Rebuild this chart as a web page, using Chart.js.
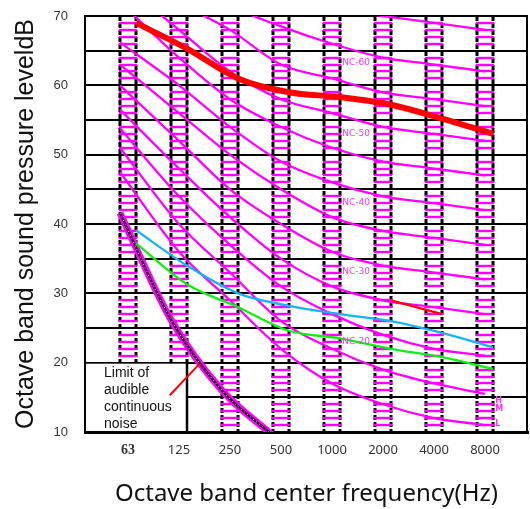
<!DOCTYPE html>
<html><head><meta charset="utf-8">
<script src="https://cdn.jsdelivr.net/npm/chart.js@4"></script>
<style>html,body{margin:0;padding:0;background:#fff}#wrap{width:530px;height:509px;position:relative}</style>
</head><body><div id="wrap"><canvas id="c"></canvas></div>
<script>
// ---------- data ----------
const bands = ['63','125','250','500','1000','2000','4000','8000'];
const yGridLevels = [10,15,20,25,30,35,40,45,50,55,60,65,70];
const yTickLabels = [10,20,30,40,50,60,70];

const nc15 = [47.5,36,29,22,17,14,12,11];
const nc20 = [51,40,33,26,22,19,17,15.5];
const nc25 = [53.8,44,37,31,27,24,22,21];
const nc30 = [56.5,48,41,35,31,29,28,27];
const nc35 = [60,52,45,40,36,34,33,32];
const nc40 = [63,56,50,45,41,39,38,37];
const nc45 = [66.2,60,54,49,46,44,43,42];
const nc50 = [72,64,58,54,51,49,48,47];
const nc55 = [75,68,62,58,56,54,53,52];
const nc60 = [78,72,68,63,61,59,58,57];
const nc65 = [81,76,71.5,68.5,66,64,63,62];
const nc70 = [84,80,76,72,71,70,69,68];

const measuredA = [69,65.3,61,59,58.3,57.2,55.2,53];      // thick red
const measuredB = [39.1,34,30,28.2,27,26,24.3,22.2];      // blue
const measuredC = [37.2,31.3,28,24.6,23.5,22,20.8,19.1];  // green
const measuredD = [29,27];                                 // short red, 2000-4000 Hz
const audibleLimit = [41.6,26.2,16,9.5];                   // 63-500 Hz

const ncLabelNames = ['NC-60','NC-50','NC-40','NC-30','NC-20'];
const ncLabelLevels = [63.2,53.1,43.1,33.1,23.0];
const curveTags = ['H','M','L'];
const curveTagLevels = [14.5,13.3,11.2];
const limitText = ['Limit of','audible','continuous','noise'];
const pointerBands = [0.82,1.41];
const pointerLevels = [15.3,19.9];

// ---------- layout / style ----------
const X_MIN = -0.843, X_MAX = 7.843;
const colHalf = 0.157, stripeHalf = 0.178;
const lineOffset = 0.157;          // measured lines drawn at right edge of band columns
const boxTop = 20;                 // label box upper level
const ncLabelX = 4.2, tagX = 7.2;
const limitTextX = -0.47, limitTextY = 18.5, limitLineGap = 17;
const MAG = '#ff00ff';

const ncSets = [nc15,nc20,nc25,nc30,nc35,nc40,nc45,nc50,nc55,nc60,nc65,nc70];
const ncData = v => v.map((val,i)=>({x: i===0 ? -colHalf : i, y: val}));
const edgeData = (v, start, off) => v.map((val,i)=>({x: start+i+off, y: val}));

const datasets = [];
ncSets.forEach(v=>datasets.push({data: ncData(v), borderColor: MAG, borderWidth: 2.3, order: 10}));
datasets.push({data: edgeData(audibleLimit,0,-colHalf), borderColor: MAG, borderWidth: 7, order: 6});
datasets.push({data: edgeData(audibleLimit,0,-colHalf), borderColor: '#111', borderWidth: 2.2, order: 5});
datasets.push({data: edgeData(audibleLimit,0,-colHalf), borderColor: '#fff', borderWidth: 1, borderDash:[1,3], order: 4});
datasets.push({data: edgeData(measuredB,0,lineOffset), borderColor: '#1ab2f0', borderWidth: 2.3, order: 3});
datasets.push({data: edgeData(measuredC,0,lineOffset), borderColor: '#11ee11', borderWidth: 2.3, order: 3});
datasets.push({data: edgeData(measuredA,0,lineOffset), borderColor: '#ff0000', borderWidth: 6, order: 2});
datasets.push({data: edgeData(measuredD,5,lineOffset), borderColor: '#ff0000', borderWidth: 2.3, order: 2});
datasets.push({data: pointerBands.map((b,i)=>({x:b,y:pointerLevels[i]})), borderColor: '#ff0000', borderWidth: 2, order: 1, cubicInterpolationMode:'default', tension:0});
datasets.forEach(d=>{ d.pointRadius = 0; d.fill = false; if(!d.cubicInterpolationMode) d.cubicInterpolationMode='monotone'; });

const decor = {
  id: 'decor',
  beforeDatasetsDraw(chart){
    const {ctx, chartArea:a, scales:{x,y}} = chart;
    ctx.save();
    const bx1 = a.left, bx2 = x.getPixelForValue(1+colHalf);
    const by1 = y.getPixelForValue(boxTop), by2 = y.getPixelForValue(y.min);
    ctx.fillStyle = '#fff';
    ctx.fillRect(bx1+1, by1+1, bx2-bx1-1, by2-by1-2);
    // column lines
    ctx.strokeStyle = '#000'; ctx.lineWidth = 3; ctx.setLineDash([5,2]);
    bands.forEach((b,i)=>{
      const lo = i<2 ? boxTop : y.min;
      [i-colHalf, i+colHalf].forEach(v=>{
        const px = x.getPixelForValue(v);
        ctx.beginPath(); ctx.moveTo(px, a.top); ctx.lineTo(px, y.getPixelForValue(lo)); ctx.stroke();
      });
    });
    ctx.setLineDash([]);
    // stripes
    ctx.strokeStyle = MAG; ctx.lineWidth = 2.4;
    bands.forEach((b,i)=>{
      const lo = i<2 ? boxTop : y.min;
      for (let v = lo+1; v < y.max; v++){
        if (v % 5 === 0) continue;
        const py = Math.round(y.getPixelForValue(v));
        ctx.beginPath(); ctx.moveTo(x.getPixelForValue(i-stripeHalf), py); ctx.lineTo(x.getPixelForValue(i+stripeHalf), py); ctx.stroke();
      }
    });
    // box right border and frame right edge
    ctx.strokeStyle = '#000'; ctx.lineWidth = 2.5;
    ctx.beginPath(); ctx.moveTo(bx2, by1); ctx.lineTo(bx2, by2); ctx.stroke();
    ctx.lineWidth = 2;
    ctx.beginPath(); ctx.moveTo(a.right-1, a.top); ctx.lineTo(a.right-1, a.bottom); ctx.stroke();
    ctx.restore();
  },
  afterDatasetsDraw(chart){
    const {ctx, scales:{x,y}} = chart;
    ctx.save();
    ctx.fillStyle = '#ff33ff'; ctx.font = '9px "DejaVu Sans"'; ctx.textBaseline = 'middle'; ctx.textAlign = 'left';
    ncLabelNames.forEach((t,i)=>ctx.fillText(t, x.getPixelForValue(ncLabelX), y.getPixelForValue(ncLabelLevels[i])));
    ctx.font = 'bold 8px "DejaVu Sans"';
    curveTags.forEach((t,i)=>ctx.fillText(t, x.getPixelForValue(tagX), y.getPixelForValue(curveTagLevels[i])));
    ctx.fillStyle = '#111'; ctx.font = '14px "Liberation Sans"';
    const tx = x.getPixelForValue(limitTextX), ty = y.getPixelForValue(limitTextY);
    limitText.forEach((t,i)=>ctx.fillText(t, tx, ty + i*limitLineGap));
    ctx.restore();
  }
};

new Chart(document.getElementById('c'), {
  type: 'line',
  data: { datasets },
  options: {
    responsive: true, maintainAspectRatio: false, animation: false,
    layout: { padding: { top: 16, right: 2, left: 0, bottom: 0 } },
    plugins: { legend: { display: false }, tooltip: { enabled: false } },
    scales: {
      x: {
        type: 'linear', min: X_MIN, max: X_MAX,
        afterBuildTicks: s => { s.ticks = bands.map((b,i)=>({value:i})); },
        afterFit: s => { s.height = 77; },
        grid: { display: false, drawTicks: false },
        border: { display: true, color: '#000', width: 3 },
        ticks: {
          autoSkip: false, maxRotation: 0, padding: 10, color: '#333',
          callback: (v) => bands[v],
          font: (c) => c.index === 0 ? { family: 'Liberation Serif', size: 14, weight: 'bold' } : { family: 'Noto Sans', size: 13 }
        },
        title: { display: true, text: 'Octave band center frequency(Hz)', color: '#111',
                 font: { family: 'Noto Sans', size: 24 }, padding: { top: 0, bottom: 0 } }
      },
      y: {
        min: 10, max: 70,
        afterBuildTicks: s => { s.ticks = yGridLevels.map(v=>({value:v})); },
        afterFit: s => { s.width = 85; },
        grid: { color: '#000', lineWidth: 2, drawTicks: true, tickLength: 17, tickColor: 'rgba(0,0,0,0)' },
        border: { display: true, color: '#000', width: 2 },
        ticks: { padding: 0, color: '#333', font: { family: 'Liberation Sans', size: 13 },
                 callback: (v) => yTickLabels.includes(v) ? String(v) : '' },
        title: { display: true, text: 'Octave band sound pressure leveldB', color: '#111',
                 font: { family: 'Liberation Sans', size: 25 }, padding: { top: 11, bottom: 0 } }
      }
    }
  },
  plugins: [decor]
});
</script></body></html>
